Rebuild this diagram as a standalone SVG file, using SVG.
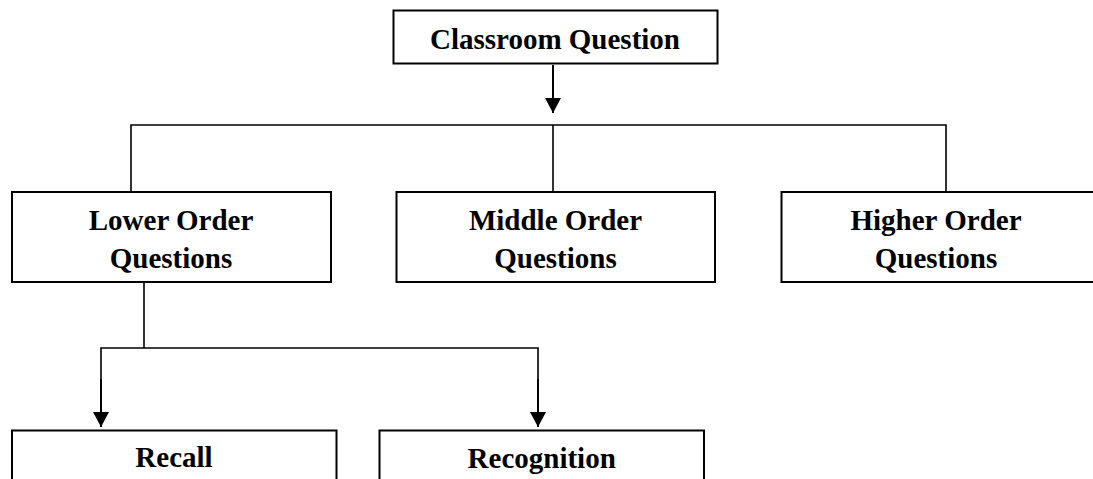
<svg xmlns="http://www.w3.org/2000/svg" width="1093" height="479" viewBox="0 0 1093 479">
<style>
.box{fill:#fff;stroke:#000;stroke-width:2}
.lbl{font-family:"Liberation Serif","Times New Roman",serif;font-weight:bold;font-size:29px;fill:#000;text-anchor:middle}
.ln{fill:none;stroke:#000;stroke-width:1.6}
.ar{fill:none;stroke:#000;stroke-width:2}
</style>
<defs>
<marker id="ah" viewBox="0 0 15 16" refX="15" refY="8" markerWidth="15" markerHeight="16" markerUnits="userSpaceOnUse" orient="auto">
<path d="M0,0 L15,8 L0,16 Z" fill="#000"/>
</marker>
</defs>
<rect width="1093" height="479" fill="#fff"/>
<g id="connectors">
<line class="ar" x1="553" y1="65" x2="553" y2="113" marker-end="url(#ah)"/>
<polyline class="ln" points="131,192 131,125 946,125 946,192"/>
<line class="ln" x1="553" y1="125" x2="553" y2="192"/>
<line class="ln" x1="144" y1="282" x2="144" y2="348"/>
<polyline class="ln" points="101,380 101,348 538,348 538,380"/>
<line class="ar" x1="101" y1="379" x2="101" y2="427" marker-end="url(#ah)"/>
<line class="ar" x1="538" y1="379" x2="538" y2="427" marker-end="url(#ah)"/>
</g>
<g id="classroom">
<rect class="box" x="393.5" y="10.5" width="324" height="53"/>
<text class="lbl" x="555" y="49">Classroom Question</text>
</g>
<g id="lower">
<rect class="box" x="12" y="192" width="319" height="90"/>
<text class="lbl" x="171" y="230">Lower Order</text>
<text class="lbl" x="171" y="268">Questions</text>
</g>
<g id="middle">
<rect class="box" x="396.5" y="192" width="318.5" height="90"/>
<text class="lbl" x="555.5" y="230">Middle Order</text>
<text class="lbl" x="555.5" y="268">Questions</text>
</g>
<g id="higher">
<rect class="box" x="781.5" y="192" width="330" height="90"/>
<text class="lbl" x="936" y="230">Higher Order</text>
<text class="lbl" x="936" y="268">Questions</text>
</g>
<g id="recall">
<rect class="box" x="12" y="430.5" width="324.5" height="60"/>
<text class="lbl" x="174" y="467">Recall</text>
</g>
<g id="recognition">
<rect class="box" x="379.5" y="430.5" width="324.5" height="60"/>
<text class="lbl" x="541.7" y="468">Recognition</text>
</g>
</svg>
